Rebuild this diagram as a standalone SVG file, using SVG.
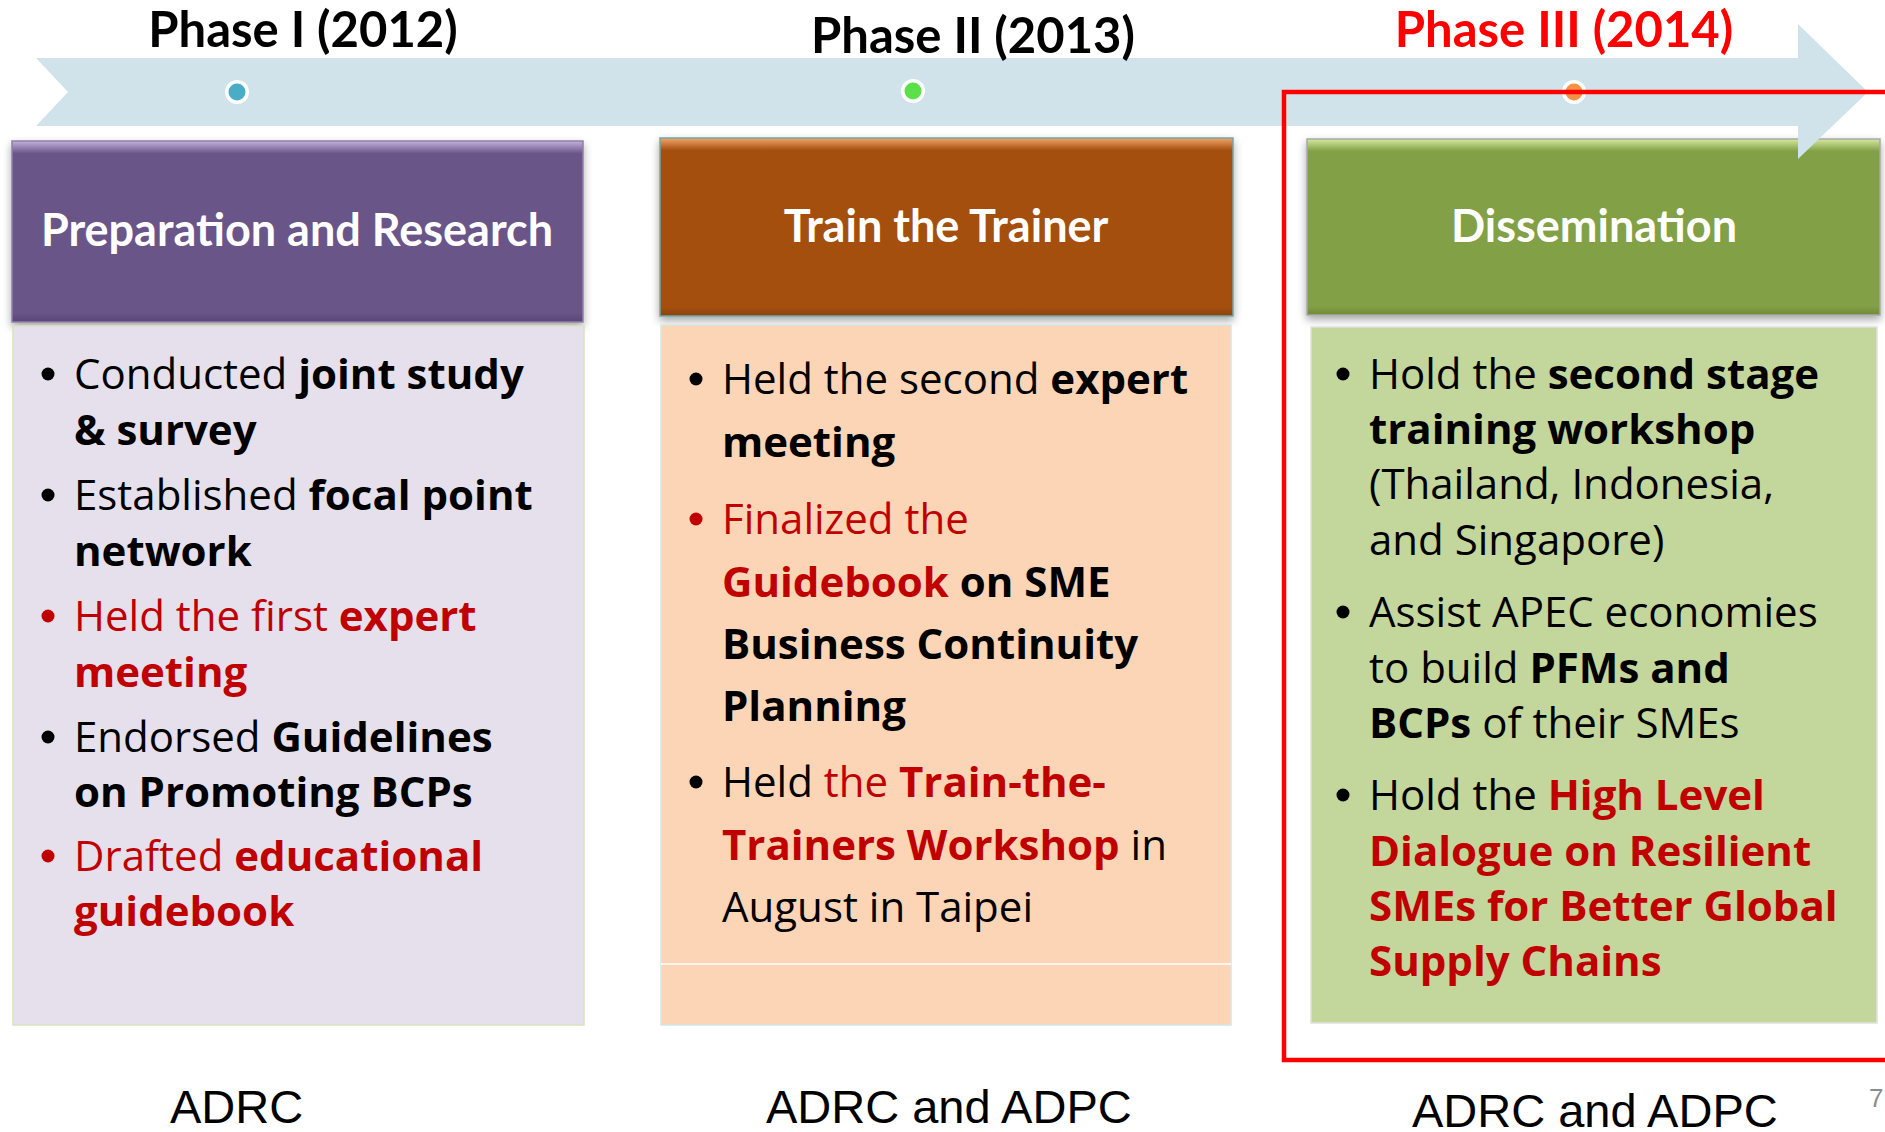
<svg xmlns="http://www.w3.org/2000/svg" width="1885" height="1132" viewBox="0 0 1885 1132">
<style>
.title{font-family:Lato,"Open Sans",sans-serif;font-weight:700;font-size:49px;text-anchor:middle}
.hdr{font-family:Lato,"Open Sans",sans-serif;font-weight:700;font-size:45px;fill:#fff;text-anchor:middle}
.t{font-family:"Open Sans","DejaVu Sans",sans-serif;font-size:42px;fill:#000}
.b{font-weight:700}
.r{fill:#C00000}
.foot{font-family:"Liberation Sans",Arial,sans-serif;font-size:47px;fill:#000}
.body{stroke-width:1.5}
</style>
<defs>
<filter id="sh" x="-5%" y="-10%" width="110%" height="125%">
<feDropShadow dx="0" dy="4" stdDeviation="4" flood-color="#000" flood-opacity="0.35"/>
</filter>
<linearGradient id="gP" x1="0" y1="0" x2="0" y2="1">
<stop offset="0" stop-color="#C2B2DA"/><stop offset="0.07" stop-color="#6A5489"/><stop offset="0.95" stop-color="#6A5489"/><stop offset="1" stop-color="#5A4676"/>
</linearGradient>
<linearGradient id="gB" x1="0" y1="0" x2="0" y2="1">
<stop offset="0" stop-color="#F2A66A"/><stop offset="0.07" stop-color="#A44F0C"/><stop offset="0.95" stop-color="#A44F0C"/><stop offset="1" stop-color="#8C420A"/>
</linearGradient>
<linearGradient id="gG" x1="0" y1="0" x2="0" y2="1">
<stop offset="0" stop-color="#D4E9A0"/><stop offset="0.07" stop-color="#82A044"/><stop offset="0.95" stop-color="#82A044"/><stop offset="1" stop-color="#6F8A38"/>
</linearGradient>
</defs>
<rect width="1885" height="1132" fill="#fff"/>

<g id="phase1">
<rect x="12" y="141" width="571" height="181" fill="url(#gP)" stroke="#8F7FA8" stroke-width="1.5" filter="url(#sh)"/>
<text class="hdr" x="297" y="246">Preparation and Research</text>
<rect class="body" x="13" y="326" width="571" height="699" fill="#E5E0EC" stroke="#D8E4C0"/>
<g fill="#000"><circle cx="48" cy="374" r="6.5"/><circle cx="48" cy="495" r="6.5"/><circle cx="48" cy="737" r="6.5"/></g>
<g fill="#C00000"><circle cx="48" cy="616" r="6.5"/><circle cx="48" cy="856" r="6.5"/></g>
<text class="t" x="74" y="389">Conducted <tspan class="b">joint study</tspan></text>
<text class="t b" x="74" y="445">&amp; survey</text>
<text class="t" x="74" y="510">Established <tspan class="b">focal point</tspan></text>
<text class="t b" x="74" y="566">network</text>
<text class="t r" x="74" y="631">Held the first <tspan class="b">expert</tspan></text>
<text class="t r b" x="74" y="687">meeting</text>
<text class="t" x="74" y="752">Endorsed <tspan class="b">Guidelines</tspan></text>
<text class="t b" x="74" y="807">on Promoting BCPs</text>
<text class="t r" x="74" y="871">Drafted <tspan class="b">educational</tspan></text>
<text class="t r b" x="74" y="926">guidebook</text>
</g>

<g id="phase2">
<rect x="660" y="138" width="573" height="178" fill="url(#gB)" stroke="#6FA8A8" stroke-width="1.5" filter="url(#sh)"/>
<text class="hdr" x="946" y="242">Train the Trainer</text>
<rect class="body" x="661" y="325" width="570" height="700" fill="#FBD5B5" stroke="#D5E6E6"/>
<line x1="661" y1="964" x2="1231" y2="964" stroke="#fff" stroke-width="1.5"/>
<g fill="#000"><circle cx="696" cy="379" r="6.5"/><circle cx="696" cy="782" r="6.5"/></g>
<circle cx="696" cy="519" r="6.5" fill="#C00000"/>
<text class="t" x="722" y="394">Held the second <tspan class="b">expert</tspan></text>
<text class="t b" x="722" y="457">meeting</text>
<text class="t r" x="722" y="534">Finalized the</text>
<text class="t b" x="722" y="597"><tspan class="r">Guidebook</tspan> on SME</text>
<text class="t b" x="722" y="659">Business Continuity</text>
<text class="t b" x="722" y="721">Planning</text>
<text class="t" x="722" y="797">Held <tspan class="r">the </tspan><tspan class="r b">Train-the-</tspan></text>
<text class="t" x="722" y="860"><tspan class="r b">Trainers Workshop</tspan> in</text>
<text class="t" x="722" y="922">August in Taipei</text>
</g>

<g id="phase3">
<rect x="1307" y="139" width="573" height="176" fill="url(#gG)" stroke="#A8A8A8" stroke-width="1.5" filter="url(#sh)"/>
<text class="hdr" x="1594" y="242">Dissemination</text>
<rect class="body" x="1311" y="327" width="566" height="696" fill="#C3D69B" stroke="#E0E0E0"/>
<g fill="#000"><circle cx="1343" cy="374" r="6.5"/><circle cx="1343" cy="612" r="6.5"/><circle cx="1343" cy="795" r="6.5"/></g>
<text class="t" x="1369" y="389">Hold the <tspan class="b">second stage</tspan></text>
<text class="t b" x="1369" y="444">training workshop</text>
<text class="t" x="1369" y="499">(Thailand, Indonesia,</text>
<text class="t" x="1369" y="555">and Singapore)</text>
<text class="t" x="1369" y="627">Assist APEC economies</text>
<text class="t" x="1369" y="683">to build <tspan class="b">PFMs and</tspan></text>
<text class="t" x="1369" y="738"><tspan class="b">BCPs</tspan> of their SMEs</text>
<text class="t" x="1369" y="810">Hold the <tspan class="r b">High Level</tspan></text>
<text class="t r b" x="1369" y="866">Dialogue on Resilient</text>
<text class="t r b" x="1369" y="921">SMEs for Better Global</text>
<text class="t r b" x="1369" y="976">Supply Chains</text>
</g>

<g id="timeline">
<polygon points="36,58 1798,58 1798,24 1868,92 1798,159 1798,126 36,126 68,92" fill="#D1E3EA"/>
<circle cx="237" cy="92" r="12" fill="#fff"/><circle cx="237" cy="92" r="8.5" fill="#4BACC6"/>
<circle cx="913" cy="91" r="12" fill="#fff"/><circle cx="913" cy="91" r="8.5" fill="#5CE04A"/>
<circle cx="1574" cy="92" r="12" fill="#fff"/><circle cx="1574" cy="92" r="8.5" fill="#F59145"/>
<text class="title" x="303" y="47" fill="#000">Phase I (2012)</text>
<text class="title" x="973" y="53" fill="#000">Phase II (2013)</text>
<text class="title" x="1564" y="47" fill="#FF0000">Phase III (2014)</text>
</g>

<g id="highlight">
<rect x="1284" y="92" width="640" height="968" fill="none" stroke="#FF0000" stroke-width="4.5"/>
</g>

<g id="labels">
<text class="foot" x="170" y="1123">ADRC</text>
<text class="foot" x="766" y="1123">ADRC and ADPC</text>
<text class="foot" x="1412" y="1127">ADRC and ADPC</text>
<text x="1869" y="1107" font-family="Liberation Sans,Arial,sans-serif" font-size="26" fill="#8C8C8C">7</text>
</g>
</svg>
